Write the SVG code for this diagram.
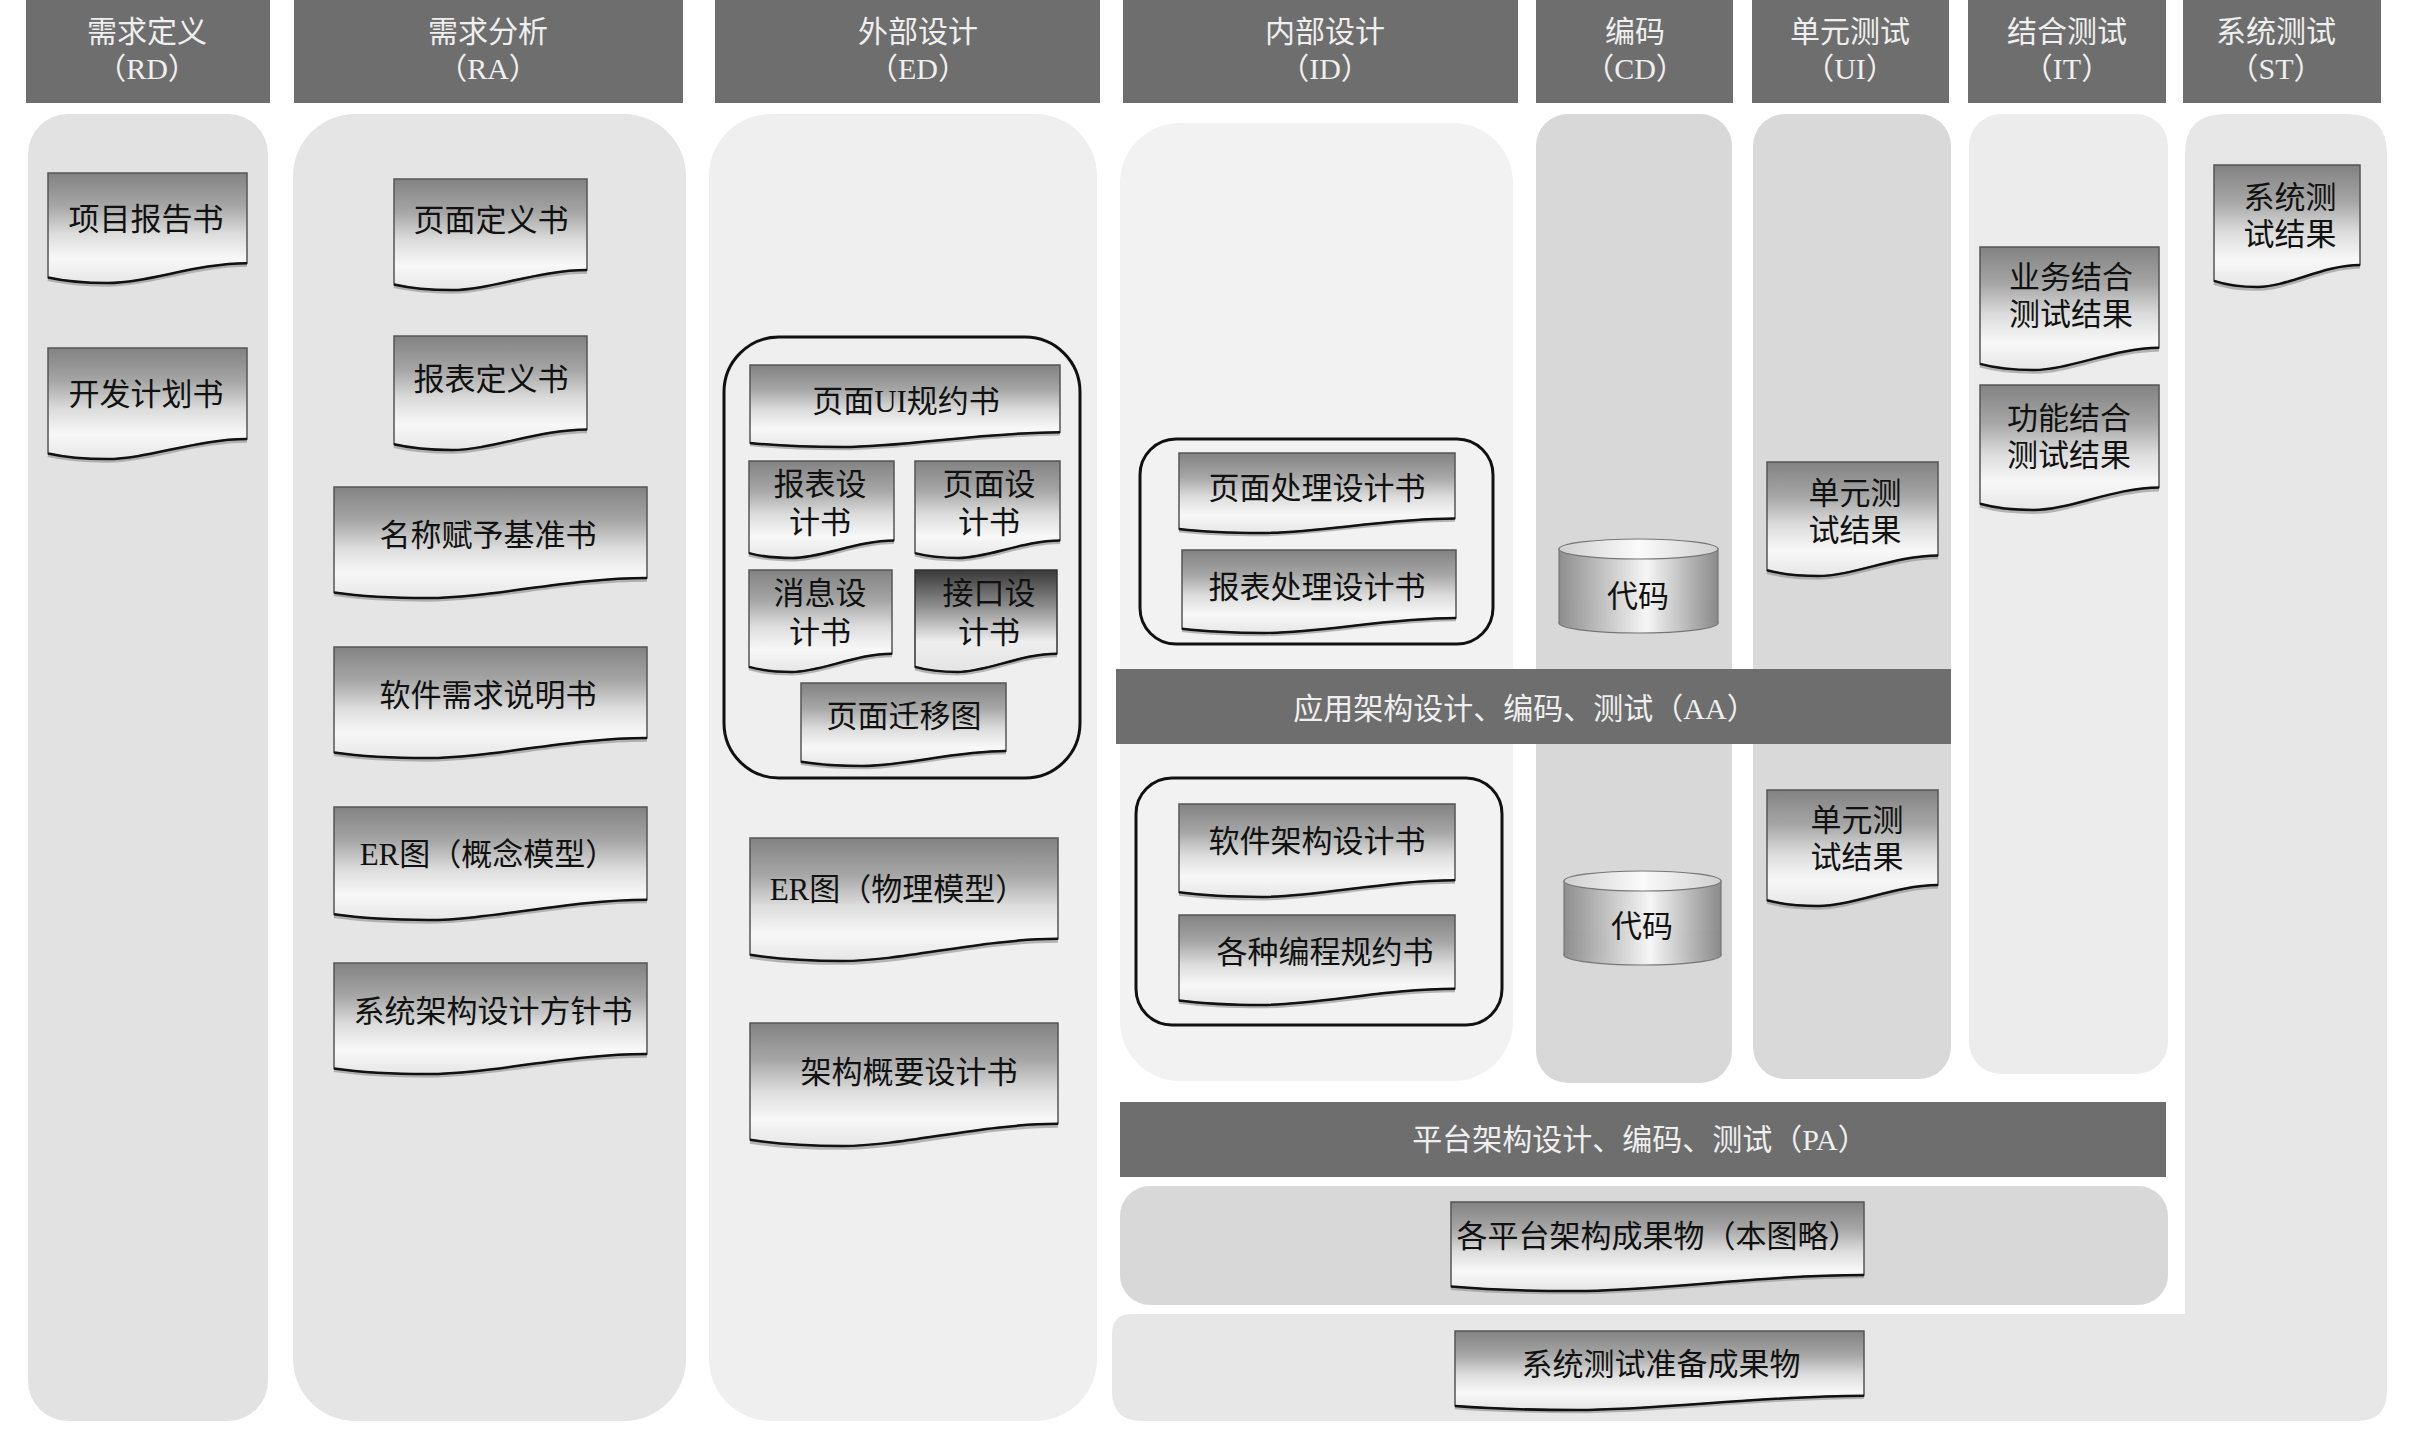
<svg xmlns="http://www.w3.org/2000/svg" xmlns:xlink="http://www.w3.org/1999/xlink" width="2416" height="1441" viewBox="0 0 2416 1441">
<defs>
<linearGradient id="gDoc" x1="0" y1="0" x2="0" y2="1">
<stop offset="0" stop-color="#828282"/>
<stop offset="0.3" stop-color="#a6a6a6"/>
<stop offset="0.55" stop-color="#dcdcdc"/>
<stop offset="0.78" stop-color="#f8f8f8"/>
<stop offset="1" stop-color="#e6e6e6"/>
</linearGradient>
<linearGradient id="gDocDark" x1="0" y1="0" x2="0" y2="1">
<stop offset="0" stop-color="#383838"/>
<stop offset="0.35" stop-color="#8c8c8c"/>
<stop offset="0.7" stop-color="#eeeeee"/>
<stop offset="1" stop-color="#e4e4e4"/>
</linearGradient>
<linearGradient id="gCyl" x1="0" y1="0" x2="1" y2="0">
<stop offset="0" stop-color="#8e8e8e"/>
<stop offset="0.55" stop-color="#f6f6f6"/>
<stop offset="1" stop-color="#8a8a8a"/>
</linearGradient>
<linearGradient id="gCylTop" x1="0" y1="0" x2="1" y2="0">
<stop offset="0" stop-color="#cfcfcf"/>
<stop offset="0.5" stop-color="#fbfbfb"/>
<stop offset="1" stop-color="#cfcfcf"/>
</linearGradient>
<symbol id="doc" viewBox="0 0 100 100" preserveAspectRatio="none" overflow="visible">
<path d="M0,0 H100 V82 C75,82 50,100 30,100 C15,100 5,97 0,95 Z" fill="url(#gDoc)" stroke="#555" stroke-width="1.5" vector-effect="non-scaling-stroke"/>
<path d="M100,83.5 C75,83.5 50,101.5 30,101.5 C15,101.5 5,98.5 0,96.5" fill="none" stroke="#9a9a9a" stroke-width="4" opacity="0.7" vector-effect="non-scaling-stroke"/>
<path d="M100,82 C75,82 50,100 30,100 C15,100 5,97 0,95" fill="none" stroke="#111" stroke-width="2.5" vector-effect="non-scaling-stroke"/>
</symbol>
<symbol id="docDark" viewBox="0 0 100 100" preserveAspectRatio="none" overflow="visible">
<path d="M0,0 H100 V82 C75,82 50,100 30,100 C15,100 5,97 0,95 Z" fill="url(#gDocDark)" stroke="#333" stroke-width="1.5" vector-effect="non-scaling-stroke"/>
<path d="M100,83.5 C75,83.5 50,101.5 30,101.5 C15,101.5 5,98.5 0,96.5" fill="none" stroke="#9a9a9a" stroke-width="4" opacity="0.7" vector-effect="non-scaling-stroke"/>
<path d="M100,82 C75,82 50,100 30,100 C15,100 5,97 0,95" fill="none" stroke="#111" stroke-width="2.5" vector-effect="non-scaling-stroke"/>
</symbol>
</defs>
<style>
text { font-family: "Liberation Serif", "Noto Sans CJK SC", serif; dominant-baseline: central; text-anchor: middle; }
.hdr { fill: #6e6e6e; }
.hdrt { fill: #efefef; font-size: 30px; }
.band { fill: #6e6e6e; }
.bandt { fill: #efefef; font-size: 30px; }
.dt { fill: #111; font-size: 31px; }
.grp { fill: none; stroke: #111; stroke-width: 3; }
.cylb { fill: url(#gCyl); stroke: #777; stroke-width: 1.2; }
.cylt { fill: url(#gCylTop); stroke: #777; stroke-width: 1.2; }
</style>
<rect width="2416" height="1441" fill="#ffffff"/>

<!-- headers -->
<g id="headers">
<g id="h-rd"><rect class="hdr" x="26" y="0" width="244" height="103"/><text class="hdrt" x="147" y="31">需求定义</text><text class="hdrt" x="147" y="68">（RD）</text></g>
<g id="h-ra"><rect class="hdr" x="294" y="0" width="389" height="103"/><text class="hdrt" x="488" y="31">需求分析</text><text class="hdrt" x="488" y="68">（RA）</text></g>
<g id="h-ed"><rect class="hdr" x="715" y="0" width="385" height="103"/><text class="hdrt" x="918" y="31">外部设计</text><text class="hdrt" x="918" y="68">（ED）</text></g>
<g id="h-id"><rect class="hdr" x="1123" y="0" width="395" height="103"/><text class="hdrt" x="1325" y="31">内部设计</text><text class="hdrt" x="1325" y="68">（ID）</text></g>
<g id="h-cd"><rect class="hdr" x="1536" y="0" width="197" height="103"/><text class="hdrt" x="1635" y="31">编码</text><text class="hdrt" x="1635" y="68">（CD）</text></g>
<g id="h-ui"><rect class="hdr" x="1752" y="0" width="197" height="103"/><text class="hdrt" x="1850" y="31">单元测试</text><text class="hdrt" x="1850" y="68">（UI）</text></g>
<g id="h-it"><rect class="hdr" x="1968" y="0" width="198" height="103"/><text class="hdrt" x="2067" y="31">结合测试</text><text class="hdrt" x="2067" y="68">（IT）</text></g>
<g id="h-st"><rect class="hdr" x="2183" y="0" width="198" height="103"/><text class="hdrt" x="2276" y="31">系统测试</text><text class="hdrt" x="2276" y="68">（ST）</text></g>
</g>

<!-- lanes -->
<g id="lanes">
<rect id="lane-rd" x="28" y="114" width="240" height="1307" rx="40" fill="#e2e2e2"/>
<rect id="lane-ra" x="293" y="114" width="393" height="1307" rx="62" fill="#e5e5e5"/>
<rect id="lane-ed" x="709" y="114" width="388" height="1307" rx="62" fill="#efefef"/>
<rect id="lane-id" x="1120" y="123" width="393" height="958" rx="60" fill="#f2f2f2"/>
<rect id="lane-cd" x="1536" y="114" width="196" height="969" rx="32" fill="#d8d8d8"/>
<rect id="lane-ui" x="1753" y="114" width="198" height="965" rx="32" fill="#d9d9d9"/>
<rect id="lane-it" x="1969" y="114" width="199" height="960" rx="32" fill="#ececec"/>
<path id="lane-st" d="M2225,114 H2347 Q2387,114 2387,154 V1391 Q2387,1421 2357,1421 H1142 Q1112,1421 1112,1391 V1334 Q1112,1314 1132,1314 H2185 V154 Q2185,114 2225,114 Z" fill="#e7e7e7"/>
<rect id="pa-area" x="1120" y="1186" width="1048" height="119" rx="30" fill="#d8d8d8"/>
</g>

<!-- bands -->
<g id="band-aa"><rect class="band" x="1116" y="669" width="835" height="75"/><text class="bandt" x="1525" y="708">应用架构设计、编码、测试（AA）</text></g>
<g id="band-pa"><rect class="band" x="1120" y="1102" width="1046" height="75"/><text class="bandt" x="1640" y="1139">平台架构设计、编码、测试（PA）</text></g>

<!-- groups -->
<rect id="grp-ed" class="grp" x="724" y="337" width="356" height="441" rx="55"/>
<rect id="grp-id1" class="grp" x="1140" y="439" width="353" height="205" rx="36"/>
<rect id="grp-id2" class="grp" x="1136" y="778" width="366" height="247" rx="36"/>

<!-- documents -->
<g id="d-xmbg"><use href="#doc" x="48" y="173" width="199" height="110"/><text class="dt" x="146" y="219">项目报告书</text></g>
<g id="d-kfjh"><use href="#doc" x="48" y="348" width="199" height="111"/><text class="dt" x="146" y="394">开发计划书</text></g>

<g id="d-ymdy"><use href="#doc" x="394" y="179" width="193" height="111"/><text class="dt" x="491" y="220">页面定义书</text></g>
<g id="d-bbdy"><use href="#doc" x="394" y="336" width="193" height="114"/><text class="dt" x="491" y="379">报表定义书</text></g>
<g id="d-mcfy"><use href="#doc" x="334" y="487" width="313" height="111"/><text class="dt" x="488" y="535">名称赋予基准书</text></g>
<g id="d-rjxq"><use href="#doc" x="334" y="647" width="313" height="111"/><text class="dt" x="488" y="695">软件需求说明书</text></g>
<g id="d-er1"><use href="#doc" x="334" y="807" width="313" height="113"/><text class="dt" x="488" y="854">ER图（概念模型）</text></g>
<g id="d-xtjg"><use href="#doc" x="334" y="963" width="313" height="111"/><text class="dt" x="493" y="1011">系统架构设计方针书</text></g>

<g id="d-ymui"><use href="#doc" x="750" y="365" width="310" height="82"/><text class="dt" x="906" y="401">页面UI规约书</text></g>
<g id="d-bbsj"><use href="#doc" x="749" y="461" width="145" height="97"/><text class="dt" x="820" y="484">报表设</text><text class="dt" x="820" y="522">计书</text></g>
<g id="d-ymsj"><use href="#doc" x="915" y="461" width="145" height="97"/><text class="dt" x="989" y="484">页面设</text><text class="dt" x="989" y="522">计书</text></g>
<g id="d-xxsj"><use href="#doc" x="749" y="570" width="143" height="102"/><text class="dt" x="820" y="593">消息设</text><text class="dt" x="820" y="632">计书</text></g>
<g id="d-jksj"><use href="#docDark" x="915" y="570" width="142" height="102"/><text class="dt" x="989" y="593">接口设</text><text class="dt" x="989" y="632">计书</text></g>
<g id="d-ymqy"><use href="#doc" x="801" y="683" width="205" height="83"/><text class="dt" x="904" y="716">页面迁移图</text></g>
<g id="d-er2"><use href="#doc" x="750" y="838" width="308" height="123"/><text class="dt" x="898" y="889">ER图（物理模型）</text></g>
<g id="d-jggy"><use href="#doc" x="750" y="1023" width="308" height="123"/><text class="dt" x="909" y="1072">架构概要设计书</text></g>

<g id="d-ymcl"><use href="#doc" x="1179" y="453" width="276" height="80"/><text class="dt" x="1317" y="488">页面处理设计书</text></g>
<g id="d-bbcl"><use href="#doc" x="1182" y="550" width="274" height="83"/><text class="dt" x="1317" y="587">报表处理设计书</text></g>
<g id="d-rjjg"><use href="#doc" x="1179" y="804" width="276" height="93"/><text class="dt" x="1317" y="841">软件架构设计书</text></g>
<g id="d-gzbc"><use href="#doc" x="1179" y="915" width="276" height="90"/><text class="dt" x="1325" y="952">各种编程规约书</text></g>

<g id="c-code1">
<rect class="cylb" x="1559" y="549" width="159" height="74"/>
<ellipse class="cylb" cx="1638.5" cy="623" rx="79.5" ry="10"/>
<rect x="1560" y="600" width="157" height="23" fill="url(#gCyl)"/>
<ellipse class="cylt" cx="1638.5" cy="549" rx="79.5" ry="10"/>
<text class="dt" x="1638" y="596">代码</text>
</g>
<g id="c-code2">
<rect class="cylb" x="1564" y="881" width="157" height="74"/>
<ellipse class="cylb" cx="1642.5" cy="955" rx="78.5" ry="10"/>
<rect x="1565" y="930" width="155" height="25" fill="url(#gCyl)"/>
<ellipse class="cylt" cx="1642.5" cy="881" rx="78.5" ry="10"/>
<text class="dt" x="1642" y="926">代码</text>
</g>

<g id="d-dycs1"><use href="#doc" x="1767" y="462" width="171" height="114"/><text class="dt" x="1855" y="493">单元测</text><text class="dt" x="1855" y="530">试结果</text></g>
<g id="d-dycs2"><use href="#doc" x="1767" y="790" width="171" height="116"/><text class="dt" x="1857" y="820">单元测</text><text class="dt" x="1857" y="857">试结果</text></g>

<g id="d-ywjh"><use href="#doc" x="1980" y="247" width="179" height="123"/><text class="dt" x="2071" y="277">业务结合</text><text class="dt" x="2071" y="314">测试结果</text></g>
<g id="d-gnjh"><use href="#doc" x="1980" y="385" width="179" height="125"/><text class="dt" x="2069" y="418">功能结合</text><text class="dt" x="2069" y="455">测试结果</text></g>

<g id="d-xtcs"><use href="#doc" x="2214" y="165" width="146" height="122"/><text class="dt" x="2290" y="197">系统测</text><text class="dt" x="2290" y="234">试结果</text></g>

<g id="d-gpt"><use href="#doc" x="1451" y="1202" width="413" height="89"/><text class="dt" x="1658" y="1236">各平台架构成果物（本图略）</text></g>
<g id="d-xtzb"><use href="#doc" x="1455" y="1331" width="409" height="79"/><text class="dt" x="1661" y="1364">系统测试准备成果物</text></g>

<g id="connectors"/>
</svg>
